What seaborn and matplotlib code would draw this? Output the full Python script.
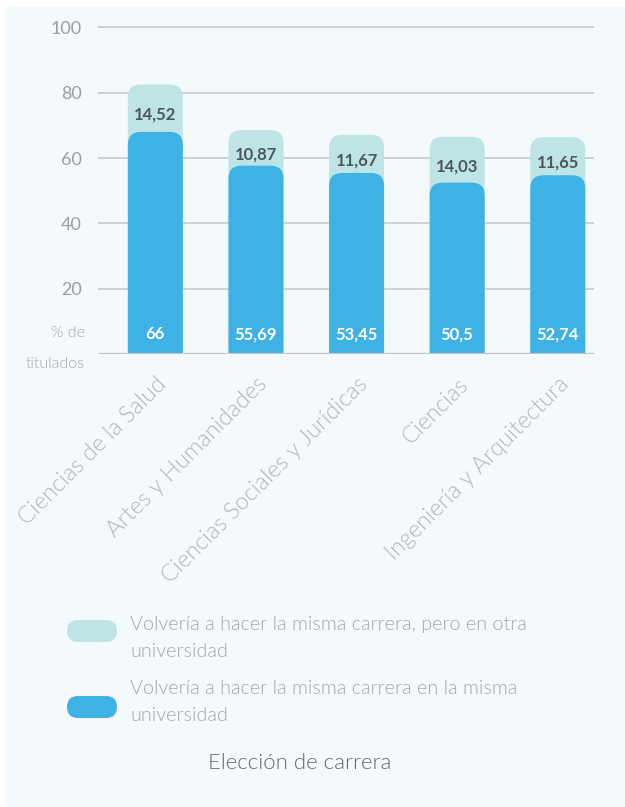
import matplotlib
matplotlib.use("Agg")
import matplotlib.pyplot as plt
import numpy as np
import pandas as pd
import seaborn as sns
from matplotlib.patches import FancyBboxPatch, Rectangle

W, H = 625, 807

categories = [
    "Ciencias de la Salud",
    "Artes y Humanidades",
    "Ciencias Sociales y Jurídicas",
    "Ciencias",
    "Ingeniería y Arquitectura",
]
misma_univ = [66, 55.69, 53.45, 50.5, 52.74]
otra_univ = [14.52, 10.87, 11.67, 14.03, 11.65]
series_labels = [
    "Volvería a hacer la misma carrera, pero en otra\nuniversidad",
    "Volvería a hacer la misma carrera en la misma\nuniversidad",
]
legend_title = "Elección de carrera"
y_ticks = [20, 40, 60, 80, 100]

BLUE = "#3eb1e5"
LIGHT = "#bfe4e5"
PANEL = "#f4f9fc"
GRID = "#c9cacd"
LABEL_DARK = "#4b5661"
SOFT = "#a3a7ab"
THIN = 300

sns.set_theme(style="white")
plt.rcParams["font.family"] = ["Lato", "DejaVu Sans"]

df = pd.DataFrame({
    "carrera": categories,
    "misma": misma_univ,
    "otra": otra_univ,
})
df["total"] = df["misma"] + df["otra"]

fig = plt.figure(figsize=(W / 100, H / 100), dpi=100)
fig.patch.set_facecolor("white")
fig.patches.append(Rectangle((6 / W, 0), 1 - 6 / W, 1 - 7 / H,
                             transform=fig.transFigure, facecolor=PANEL,
                             edgecolor="none", zorder=-10))

ax = fig.add_axes([98 / W, (H - 354.3) / H, 496 / W, 330.3 / H])
ax.set_facecolor("none")

bar_w = 0.547
sns.barplot(data=df, x="carrera", y="total", color=LIGHT, width=bar_w,
            saturation=1, ax=ax)
sns.barplot(data=df, x="carrera", y="misma", color=BLUE, width=bar_w,
            saturation=1, ax=ax)

# swap the flat seaborn bars for rounded-top versions
CAP = 2.0
aspect = 100.5 / 3.27
for p in list(ax.patches):
    x0, w, h = p.get_x(), p.get_width(), p.get_height()
    fc = p.get_facecolor()
    p.set_visible(False)
    rp = FancyBboxPatch((x0, -10), w, h + 10 + CAP,
                        boxstyle="round,pad=0,rounding_size=0.13",
                        mutation_aspect=aspect, facecolor=fc,
                        edgecolor="none", zorder=3)
    ax.add_patch(rp)

ax.set_xlim(-0.57, 4.36)
ax.set_ylim(0, 101)
ax.set_yticks(y_ticks)
ax.set_yticklabels([str(v) for v in y_ticks])
for v in y_ticks:
    ax.axhline(v, color=GRID, lw=1.2, zorder=1)
ax.axhline(0, color="#c3c4c8", lw=1.6, zorder=4)

for s in ax.spines.values():
    s.set_visible(False)
ax.tick_params(axis="y", length=0, pad=11.5, labelsize=13, labelcolor="#9a9ea2")
ax.tick_params(axis="x", length=0, pad=14)
ax.set_xticks(range(len(categories)))
ax.set_xticklabels(categories, rotation=45, ha="right", rotation_mode="anchor",
                   fontsize=16.8, color="#b3b7bb", fontweight=THIN)
ax.set_xlabel("")
ax.set_ylabel("")

for i, (m, o) in enumerate(zip(misma_univ, otra_univ)):
    ax.text(i, m + o / 2, f"{o:g}".replace(".", ","), ha="center", va="center",
            fontsize=12, fontweight="bold", color=LABEL_DARK, zorder=5)
    ax.text(i, 6.2, f"{m:g}".replace(".", ","), ha="center", va="center",
            fontsize=12, fontweight="bold", color="white", zorder=5)

fig.text(85 / W, 1 - 333 / H, "% de", ha="right", va="center", fontsize=11.5,
         color=SOFT, fontweight=THIN)
fig.text(85 / W, 1 - 364 / H, "titulados", ha="right", va="center", fontsize=11.5,
         color=SOFT, fontweight=THIN)

# legend drawn by hand: rounded pills + wrapped labels
pill_centers = [631, 707]
text_tops = [616, 680]
for col, lab, cy, ty in zip([LIGHT, BLUE], series_labels, pill_centers, text_tops):
    fig.patches.append(FancyBboxPatch(
        (67 / W, 1 - (cy + 11) / H), 50 / W, 22 / H,
        boxstyle=f"round,pad=0,rounding_size={11 / W}",
        mutation_aspect=W / H, transform=fig.transFigure,
        facecolor=col, edgecolor="none"))
    fig.text(130 / W, 1 - ty / H, lab, ha="left", va="top", fontsize=14.2,
             color=SOFT, fontweight=THIN, linespacing=1.7)

fig.text(300 / W, 1 - 763 / H, legend_title, ha="center", va="center",
         fontsize=16, color="#65696e", fontweight=THIN)

fig.savefig("out.png", dpi=100, facecolor=fig.get_facecolor())
